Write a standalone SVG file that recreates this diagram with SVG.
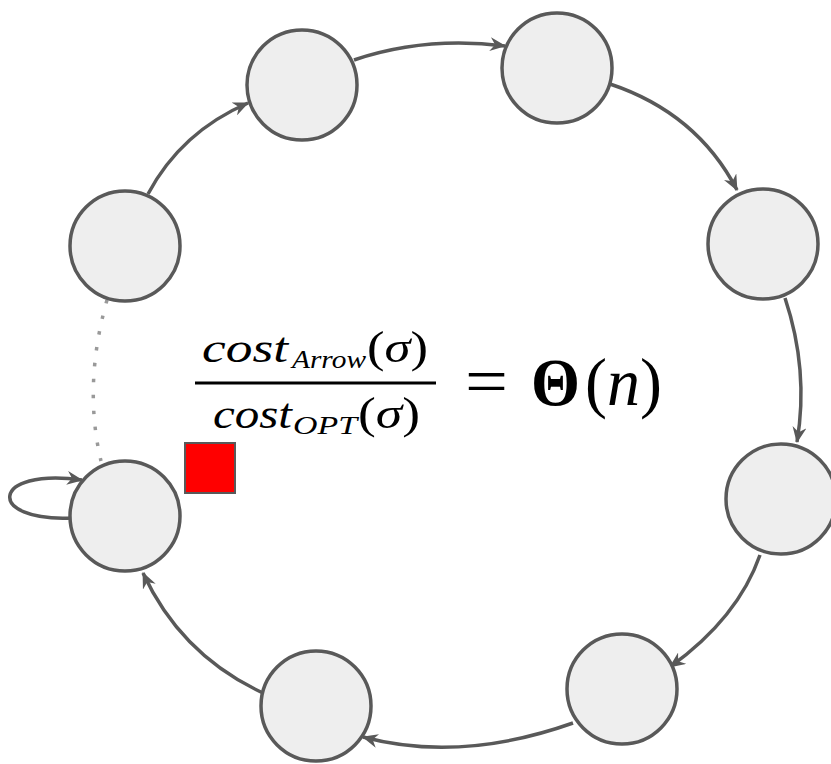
<svg xmlns="http://www.w3.org/2000/svg" width="831" height="764" viewBox="0 0 831 764">
<defs>
<marker id="ah" viewBox="0 0 16 14" refX="15" refY="7" markerWidth="16" markerHeight="14" markerUnits="userSpaceOnUse" orient="auto">
<path d="M0,0 L16,7 L0,14 L5,7 z" fill="#595959"/>
</marker>
<style>
.node circle{fill:#eeeeee;stroke:#595959;stroke-width:3.5}
.edge{fill:none;stroke:#595959;stroke-width:3.5;marker-end:url(#ah)}
.dot{fill:none;stroke:#999999;stroke-width:3.5;stroke-dasharray:3.5 12.5}
.i{font-style:italic}
</style>
</defs>
<rect width="831" height="764" fill="#ffffff"/>
<g id="connectors">
<path class="edge" d="M148,194 Q181,132 248,103"/>
<path class="edge" d="M354,60 Q425,36 505,46"/>
<path class="edge" d="M610,84 Q697,113 737,190"/>
<path class="edge" d="M785,298 Q809,370 797,442"/>
<path class="edge" d="M760,555 Q738,618 670,667"/>
<path class="edge" d="M573,723 Q460,763 363,737"/>
<path class="edge" d="M263,693 Q181,655 143,573"/>
<path class="edge" d="M72,518 C-15,522 -10,467 82,480"/>
<path class="dot" d="M107,300 Q83,385 101,461"/>
</g>
<g id="n1" class="node"><circle cx="302" cy="85" r="55"/></g>
<g id="n2" class="node"><circle cx="557" cy="68" r="55"/></g>
<g id="n3" class="node"><circle cx="763" cy="244" r="55"/></g>
<g id="n4" class="node"><circle cx="781" cy="499" r="55"/></g>
<g id="n5" class="node"><circle cx="622" cy="689" r="55"/></g>
<g id="n6" class="node"><circle cx="316" cy="706" r="55"/></g>
<g id="n7" class="node"><circle cx="125" cy="516" r="55"/></g>
<g id="n8" class="node"><circle cx="125" cy="246" r="55"/></g>
<rect id="token" x="185" y="443" width="50" height="50" fill="#ff0000" stroke="#595959" stroke-width="2"/>
<g id="formula" font-family="'Liberation Serif', 'Times New Roman', 'DejaVu Serif', serif" fill="#000">
<text class="i" x="202" y="362" font-size="42" textLength="86" lengthAdjust="spacingAndGlyphs">cost</text>
<text class="i" x="292" y="368" font-size="25" textLength="74" lengthAdjust="spacingAndGlyphs">Arrow</text>
<text x="367" y="362" font-size="44" textLength="61" lengthAdjust="spacingAndGlyphs">(<tspan class="i">σ</tspan>)</text>
<line x1="195" y1="383" x2="436" y2="383" stroke="#000" stroke-width="3"/>
<text class="i" x="213" y="428" font-size="42" textLength="79" lengthAdjust="spacingAndGlyphs">cost</text>
<text class="i" x="293" y="434" font-size="25" textLength="64" lengthAdjust="spacingAndGlyphs">OPT</text>
<text x="358" y="428" font-size="44" textLength="62" lengthAdjust="spacingAndGlyphs">(<tspan class="i">σ</tspan>)</text>
<text x="465" y="404" font-size="68" textLength="43" lengthAdjust="spacingAndGlyphs">=</text>
<text x="531" y="405" font-size="68" font-weight="bold" textLength="49" lengthAdjust="spacingAndGlyphs">Θ</text>
<text x="585" y="405" font-size="68" textLength="77" lengthAdjust="spacingAndGlyphs">(<tspan class="i">n</tspan>)</text>
</g>
</svg>
